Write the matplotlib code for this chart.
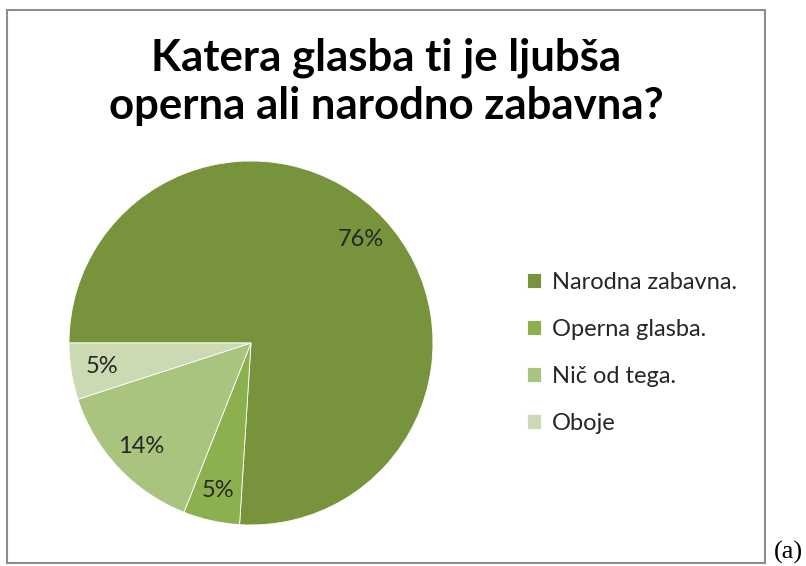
import matplotlib
matplotlib.use('Agg')
import matplotlib.pyplot as plt
from matplotlib.patches import Rectangle

# Podatki
kategorije = ['Narodna zabavna.', 'Operna glasba.', 'Nič od tega.', 'Oboje']
odstotki = [76, 5, 14, 5]
barve = ['#77933C', '#8DB04F', '#A9C47F', '#CBDAB3']
naslov = 'Katera glasba ti je ljubša\noperna ali narodno zabavna?'

plt.rcParams['font.family'] = ['Lato', 'DejaVu Sans']

fig = plt.figure(figsize=(8.06, 5.66), dpi=100)

# okvir grafa
fig.patches.append(Rectangle((6.5 / 806, 3 / 566), 758.5 / 806, 553.5 / 566,
                             transform=fig.transFigure, fill=False,
                             edgecolor='#8c8c8c', linewidth=1.5))

ax = fig.add_axes([69 / 806, 41 / 566, 364 / 806, 364 / 566])
wedges, texts, autotexts = ax.pie(odstotki, colors=barve, startangle=180,
                                  counterclock=False, autopct='%d%%',
                                  pctdistance=0.83,
                                  wedgeprops=dict(edgecolor='white', linewidth=0.6),
                                  textprops=dict(fontsize=17, color='#262626'))
ax.set_xlim(-1, 1)
ax.set_ylim(-1, 1)

fig.text(386 / 806, 1 - 82 / 566, naslov, ha='center', va='center',
         fontsize=31.5, fontweight='bold', color='black', linespacing=1.25)

fig.legend(wedges, kategorije, loc='center left',
           bbox_to_anchor=(506 / 806, 1 - 353 / 566), frameon=False,
           fontsize=17, handlelength=0.6, handleheight=0.6,
           handletextpad=0.45, labelspacing=1.1, labelcolor='#262626')

fig.text(774 / 806, 1 - 559 / 566, '(a)', family='Liberation Serif',
         fontsize=19, ha='left', va='baseline')

plt.savefig('out.png', dpi=100)
